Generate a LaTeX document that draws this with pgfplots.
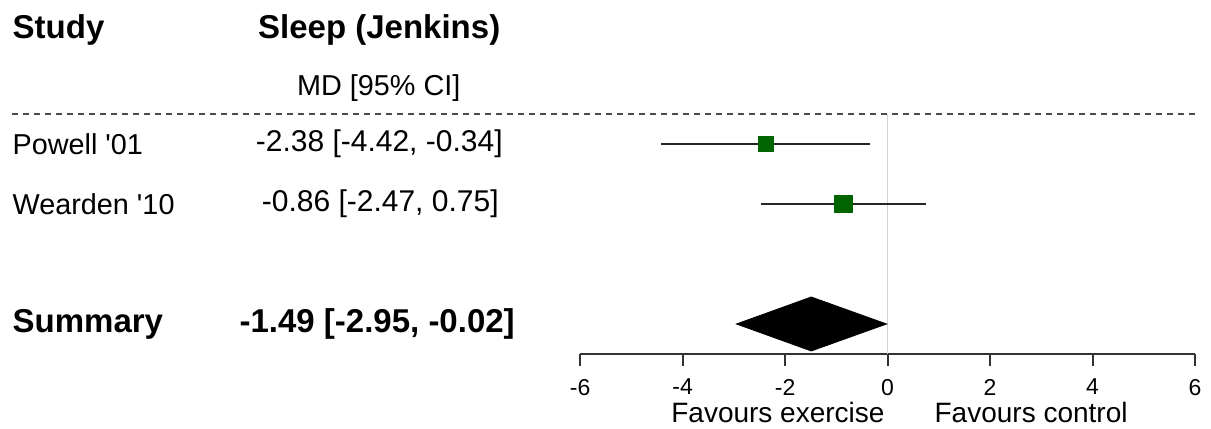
\documentclass[border=0pt]{standalone}
\usepackage{pgfplots}
\pgfplotsset{compat=1.18}
\usepackage{fontspec}
\setmainfont{Liberation Sans}
\definecolor{fgreen}{RGB}{0,100,0}
\newcommand{\nf}{\fontsize{14.4}{16}\selectfont}
\newcommand{\ff}{\fontsize{14}{16}\selectfont}
\newcommand{\ef}{\fontsize{15}{17}\selectfont}
\newcommand{\bff}{\fontsize{16.5}{19}\selectfont\bfseries}
\begin{document}
\begin{tikzpicture}
\begin{axis}[
  x=25.625pt, y=30pt,
  xmin=-6, xmax=6, ymin=-1.5, ymax=4.4,
  axis x line=bottom, axis y line=none,
  x axis line style={-, line width=0.9pt, black!80},
  clip=false,
  xtick={-6,-4,...,6},
  tick align=outside,
  major tick length=6pt,
  xtick style={line width=0.9pt, black!80},
  xticklabel style={font=\fontsize{11.5}{13}\selectfont, yshift=-3pt},
  /pgf/number format/assume math mode=true,
  ytick=\empty,
]
% reference line at 0
\addplot[gray!35, line width=0.7pt] coordinates {(0,2.5) (0,-1.5)};
% dashed separator
\addplot[gray!60!black, line width=0.8pt, dash pattern=on 3pt off 2.5pt] coordinates {(-17.08,2.5) (6,2.5)};
% CIs
\addplot[black!85, line width=0.9pt] coordinates {(-4.42,2) (-0.34,2)};
\addplot[black!85, line width=0.9pt] coordinates {(-2.47,1) (0.75,1)};
% point estimates
\addplot[only marks, mark=square*, mark size=3.75pt, fgreen, mark options={draw=fgreen, fill=fgreen}] coordinates {(-2.38,2)};
\addplot[only marks, mark=square*, mark size=4.4pt, fgreen, mark options={draw=fgreen, fill=fgreen}] coordinates {(-0.86,1)};
% summary diamond
\addplot[fill=black, draw=black] coordinates {(-2.95,-1) (-1.49,-0.55) (-0.02,-1) (-1.49,-1.45)} --cycle;
% text
\node[anchor=west, inner sep=0pt, font=\bff] at (axis cs:-17.08,3.9) {Study};
\node[font=\bff] at (axis cs:-9.92,3.9) {Sleep (Jenkins)};
\node[font=\nf] at (axis cs:-9.93,2.93) {MD [95\% CI]};
\node[anchor=west, inner sep=0pt, font=\nf] at (axis cs:-17.08,2) {Powell \textquotesingle01};
\node[anchor=west, inner sep=0pt, font=\nf] at (axis cs:-17.08,1) {Wearden \textquotesingle10};
\node[anchor=west, inner sep=0pt, font=\bff] at (axis cs:-17.08,-1) {Summary};
\node[font=\ef] at (axis cs:-9.92,2) {-2.38 [-4.42, -0.34]};
\node[font=\ef] at (axis cs:-9.9,1) {-0.86 [-2.47, 0.75]};
\node[font=\bff] at (axis cs:-9.96,-1) {-1.49 [-2.95, -0.02]};
\node[font=\ff] at (axis cs:-2.14,-2.47) {Favours exercise};
\node[font=\ff] at (axis cs:2.8,-2.47) {Favours control};
\coordinate (BL) at (axis cs:-17.32,-2.75);
\coordinate (TR) at (axis cs:6.31,4.4);
\end{axis}
\pgfresetboundingbox
\path (BL) rectangle (TR);
\end{tikzpicture}
\end{document}
